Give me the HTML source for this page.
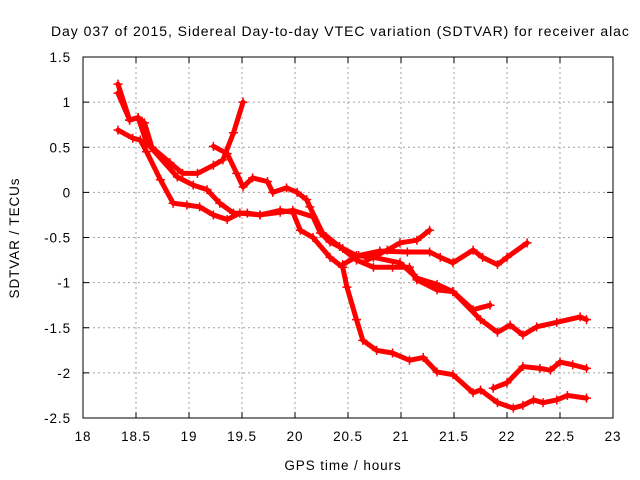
<!DOCTYPE html>
<html><head><meta charset="utf-8"><style>
body{margin:0;background:#fff;}
svg{display:block;font-family:"Liberation Sans",sans-serif;}
text{letter-spacing:0.9px;}
</style></head><body>
<svg id="chart" width="640" height="480">
<text x="51" y="36" font-size="14" style="letter-spacing:0.95px" fill="#000">Day 037 of 2015, Sidereal Day-to-day VTEC variation (SDTVAR) for receiver alac</text>
<text x="343" y="470" font-size="13.5" text-anchor="middle">GPS time / hours</text>
<text transform="translate(19,238) rotate(-90)" font-size="13.5" text-anchor="middle">SDTVAR / TECUs</text>
<g id="grid"></g>
<g id="series"></g>
<rect x="83" y="57" width="530" height="361" fill="none" stroke="#000" stroke-width="1"/>
</svg>
<script>
const xTicks=[18,18.5,19,19.5,20,20.5,21,21.5,22,22.5,23];
const xTickLabels=["18","18.5","19","19.5","20","20.5","21","21.5","22","22.5","23"];
const yTicks=[1.5,1,0.5,0,-0.5,-1,-1.5,-2,-2.5];
const yTickLabels=["1.5","1","0.5","0","-0.5","-1","-1.5","-2","-2.5"];
const s1h=[18.33,18.44,18.52,18.58,18.65,18.82,18.94,19.08,19.23,19.32,19.42,19.51];
const s1v=[1.2,0.8,0.83,0.77,0.5,0.33,0.21,0.21,0.3,0.36,0.66,1.0];
const s2h=[18.33,18.44,18.52,18.6,18.89,19.04,19.17,19.29,19.42,19.55,19.67,19.86,19.98,20.17,20.24,20.33,20.45,20.58,20.74,20.99,21.15,21.34,21.49,21.75,21.91,22.03,22.15,22.28,22.47,22.69,22.75];
const s2v=[1.1,0.8,0.83,0.55,0.17,0.08,0.03,-0.12,-0.23,-0.23,-0.25,-0.22,-0.2,-0.27,-0.45,-0.55,-0.62,-0.7,-0.72,-0.78,-0.95,-1.02,-1.1,-1.41,-1.55,-1.47,-1.58,-1.49,-1.44,-1.38,-1.41];
const s3h=[19.23,19.36,19.45,19.51,19.60,19.74,19.79,19.92,20.02,20.11,20.14,20.26,20.42,20.58,20.74,20.92,21.08,21.15,21.34,21.49,21.68,21.84];
const s3v=[0.51,0.43,0.21,0.06,0.16,0.12,0,0.05,0,-0.08,-0.16,-0.45,-0.6,-0.75,-0.83,-0.83,-0.83,-0.97,-1.08,-1.1,-1.3,-1.25];
const s4h=[18.33,18.47,18.54,18.60,18.73,18.85,18.98,19.10,19.23,19.36,19.48,19.67,19.86,19.98,20.05,20.17,20.33,20.45,20.49,20.58,20.64,20.77,20.92,21.08,21.21,21.34,21.49,21.68,21.75,21.91,22.06,22.15,22.25,22.34,22.47,22.57,22.75];
const s4v=[0.69,0.6,0.58,0.45,0.14,-0.12,-0.14,-0.16,-0.25,-0.3,-0.23,-0.25,-0.2,-0.22,-0.42,-0.5,-0.72,-0.83,-1.05,-1.41,-1.64,-1.75,-1.78,-1.86,-1.83,-1.99,-2.02,-2.22,-2.19,-2.33,-2.39,-2.36,-2.3,-2.33,-2.3,-2.25,-2.28];
const s5h=[21.87,22.0,22.15,22.31,22.41,22.5,22.62,22.75];
const s5v=[-2.17,-2.11,-1.93,-1.95,-1.97,-1.88,-1.91,-1.95];
const s6h=[20.68,20.87,20.99,21.15,21.27];
const s6v=[-0.75,-0.64,-0.56,-0.53,-0.42];
const s7h=[20.45,20.6,20.8,21.06,21.27,21.37,21.49,21.68,21.77,21.91,22.0,22.19];
const s7v=[-0.8,-0.7,-0.65,-0.66,-0.66,-0.72,-0.78,-0.64,-0.72,-0.8,-0.72,-0.56];

const NS="http://www.w3.org/2000/svg";
function X(h){return 83+(h-18)*106;}
function Y(v){return 57+(1.5-v)*90.25;}
const svg=document.getElementById('chart');
const grid=document.getElementById('grid');
function mk(tag,attrs,parent){const e=document.createElementNS(NS,tag);for(const k in attrs)e.setAttribute(k,attrs[k]);parent.appendChild(e);return e;}
xTicks.forEach((t,i)=>{
  const x=X(t);
  if(i>0&&i<xTicks.length-1){const g=mk('line',{x1:x,y1:57,x2:x,y2:418,stroke:'#a0a0a0','stroke-dasharray':'2,3'},grid);
  
  }
  mk('line',{x1:x,y1:418,x2:x,y2:412,stroke:'#000'},grid);
  mk('line',{x1:x,y1:57,x2:x,y2:63,stroke:'#000'},grid);
  const l=mk('text',{x:x,y:441,'font-size':13.5,'text-anchor':'middle'},svg);
  l.textContent=xTickLabels[i];
  
  
});
yTicks.forEach((t,i)=>{
  const y=Y(t);
  if(i>0&&i<yTicks.length-1){const g=mk('line',{x1:83,y1:y,x2:613,y2:y,stroke:'#a0a0a0','stroke-dasharray':'2,3'},grid);
  
  }
  mk('line',{x1:83,y1:y,x2:89,y2:y,stroke:'#000'},grid);
  mk('line',{x1:613,y1:y,x2:607,y2:y,stroke:'#000'},grid);
  const l=mk('text',{x:71,y:y+5,'font-size':13.5,'text-anchor':'end'},svg);
  l.textContent=yTickLabels[i];
  
  
});
const sg=document.getElementById('series');
const all=[[s1h,s1v],[s2h,s2v],[s3h,s3v],[s4h,s4v],[s5h,s5v],[s6h,s6v],[s7h,s7v]];
all.forEach((s,k)=>{
  const pts=s[0].map((h,i)=>X(h)+','+Y(s[1][i])).join(' ');
  const p=mk('polyline',{points:pts,fill:'none',stroke:'#ff0000','stroke-width':5,'stroke-linejoin':'round','stroke-linecap':'round'},sg);
  
  
  s[0].forEach((h,i)=>{
    const x=X(h),y=Y(s[1][i]);
    const m=mk('path',{d:`M${x-4.5},${y}H${x+4.5}M${x},${y-4.5}V${y+4.5}`,stroke:'#ff0000','stroke-width':1.5},sg);
    
    
  });
});
</script>
</body></html>
